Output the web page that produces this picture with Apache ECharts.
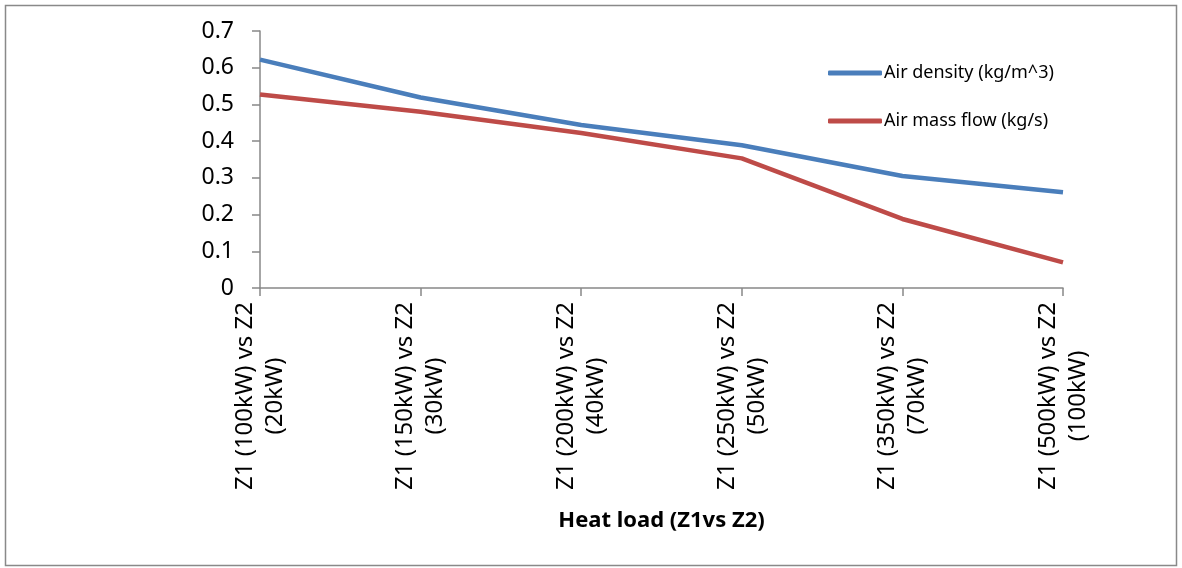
<!DOCTYPE html>
<html><head><meta charset="utf-8">
<script src="https://cdn.jsdelivr.net/npm/echarts@6/dist/echarts.min.js"></script>
<style>html,body{margin:0;padding:0;background:#fff}#c{width:1182px;height:568px}</style>
</head><body><div id="c"></div>
<script>
const categories = ["Z1 (100kW) vs Z2\n(20kW)","Z1 (150kW) vs Z2\n(30kW)","Z1 (200kW) vs Z2\n(40kW)","Z1 (250kW) vs Z2\n(50kW)","Z1 (350kW) vs Z2\n(70kW)","Z1 (500kW) vs Z2\n(100kW)"];
const airDensity = [0.622, 0.519, 0.444, 0.389, 0.305, 0.261];
const airMassFlow = [0.527, 0.480, 0.422, 0.353, 0.188, 0.070];
const seriesNames = ["Air density (kg/m^3)", "Air mass flow (kg/s)"];
const xTitle = "Heat load (Z1vs Z2)";

const font = "'Noto Sans', 'Open Sans', sans-serif";
const chart = echarts.init(document.getElementById('c'), null, {renderer:'canvas'});
chart.setOption({
  animation:false,
  backgroundColor:'#fff',
  graphic:[{type:'rect', shape:{x:5.5,y:5.5,width:1171,height:560}, style:{fill:'none', stroke:'#898989', lineWidth:1.5}, silent:true}],
  grid:{left:260, right:119, top:31, bottom:280, containLabel:false},
  legend:{
    orient:'vertical', left:823, top:59, itemWidth:54, itemHeight:5, itemGap:30,
    icon:'roundRect',
    textStyle:{fontFamily:font, fontSize:18, color:'#000', padding:[0,0,0,-3]},
    data:seriesNames
  },
  xAxis:{
    type:'category', data:categories, boundaryGap:false,
    name:xTitle, nameLocation:'middle', nameGap:222,
    nameTextStyle:{fontFamily:font, fontSize:22, fontWeight:'bold', color:'#000'},
    axisLine:{lineStyle:{color:'#888', width:1.5}},
    axisTick:{show:true, alignWithLabel:true, length:8, lineStyle:{color:'#888', width:1.5}},
    axisLabel:{rotate:90, align:'center', verticalAlign:'middle', margin:108, fontFamily:font, fontSize:24, color:'#000', lineHeight:30, interval:0},
    splitLine:{show:false}
  },
  yAxis:{
    type:'value', min:0, max:0.7, interval:0.1,
    axisLine:{show:true, lineStyle:{color:'#888', width:1.5}},
    axisTick:{show:true, length:8, lineStyle:{color:'#888', width:1.5}},
    axisLabel:{fontFamily:font, fontSize:23, color:'#000', margin:26, formatter:v=>+v.toFixed(1)+''},
    splitLine:{show:false}
  },
  series:[
    {name:seriesNames[0], type:'line', data:airDensity, showSymbol:false, symbol:'none', lineStyle:{color:'#4a7ebb', width:4.5}, itemStyle:{color:'#4a7ebb'}},
    {name:seriesNames[1], type:'line', data:airMassFlow, showSymbol:false, symbol:'none', lineStyle:{color:'#be4b48', width:4.5}, itemStyle:{color:'#be4b48'}}
  ]
});
</script></body></html>
